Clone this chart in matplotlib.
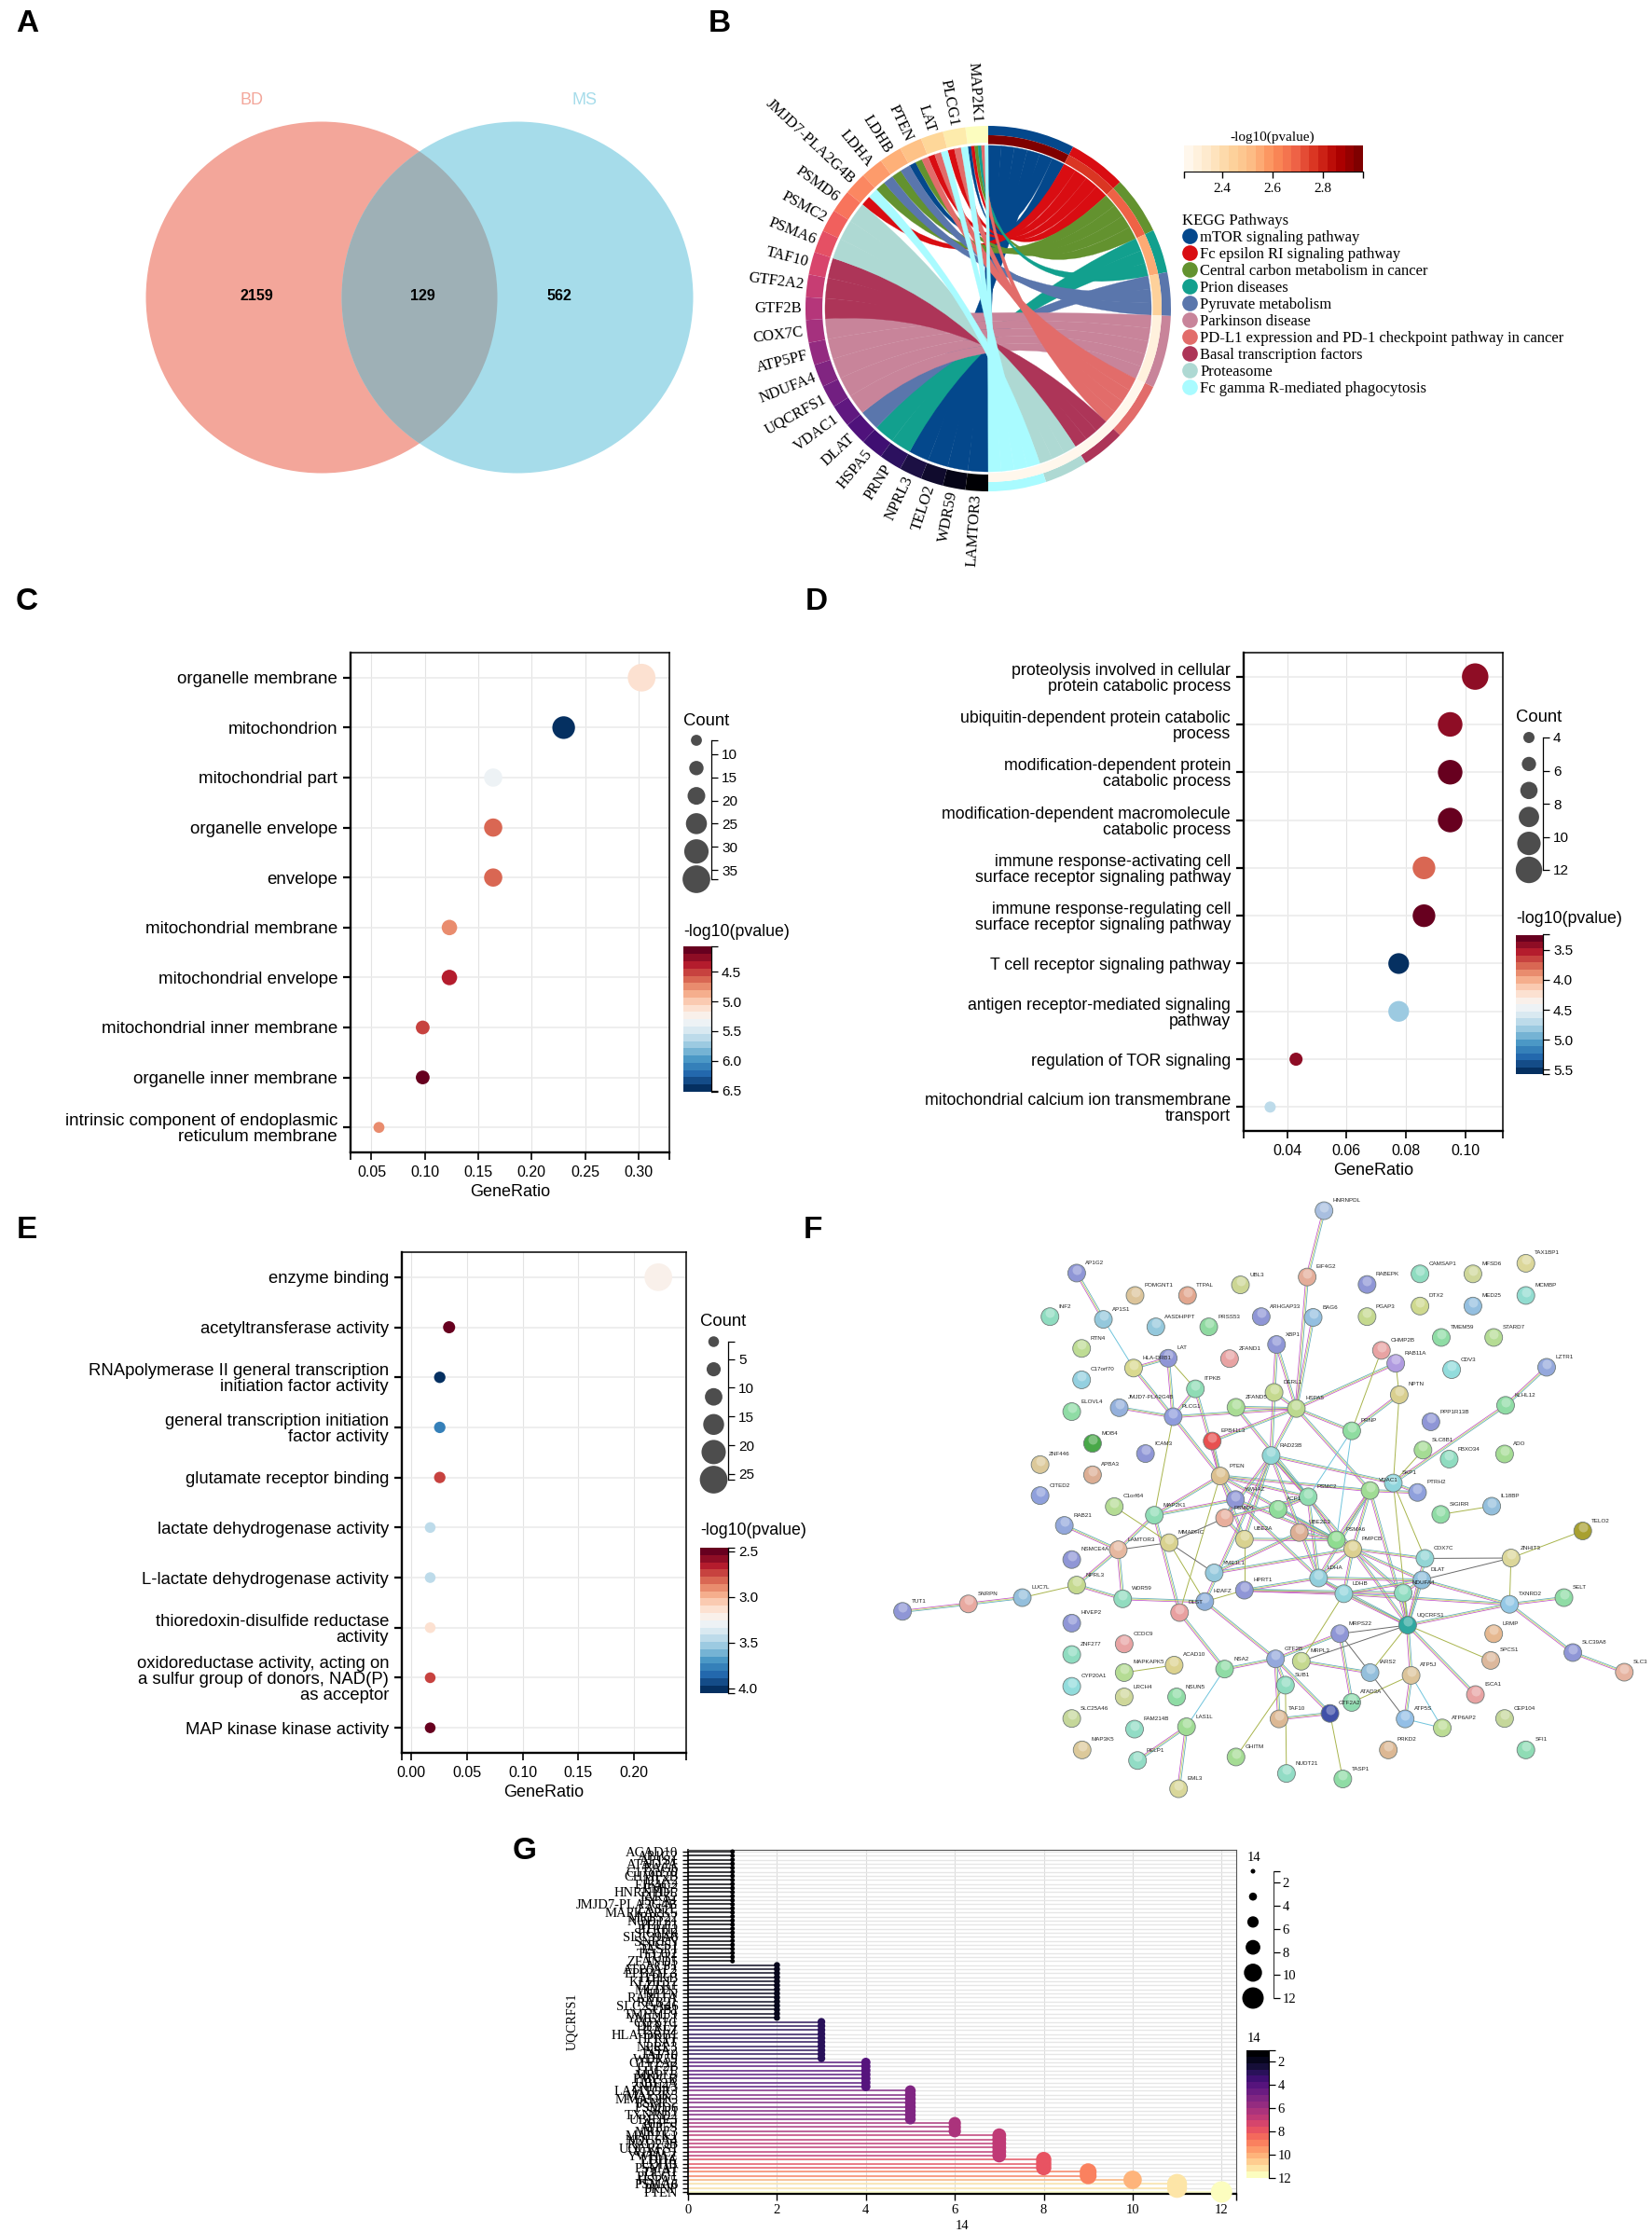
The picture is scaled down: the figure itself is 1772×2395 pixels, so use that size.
import numpy as np
import matplotlib
matplotlib.use('Agg')
import matplotlib.pyplot as plt
from matplotlib.cm import ScalarMappable
from matplotlib.collections import LineCollection
from matplotlib.colors import Normalize
from matplotlib.lines import Line2D
from matplotlib.patches import Circle, PathPatch, Wedge
from matplotlib.path import Path

plt.rcParams['font.family'] = ['Liberation Sans', 'DejaVu Sans']

W, H = 1772, 2395
SERIF = 'Liberation Serif'

# A: venn
venn_names = ['BD', 'MS']
venn_counts = [2159, 129, 562]

# B: chord
chord_genes = ['MAP2K1', 'PLCG1', 'LAT', 'PTEN', 'LDHB', 'LDHA', 'JMJD7-PLA2G4B', 'PSMD6', 'PSMC2',
               'PSMA6', 'TAF10', 'GTF2A2', 'GTF2B', 'COX7C', 'ATP5PF', 'NDUFA4', 'UQCRFS1', 'VDAC1',
               'DLAT', 'HSPA5', 'PRNP', 'NPRL3', 'TELO2', 'WDR59', 'LAMTOR3']
kegg_names = ['mTOR signaling pathway', 'Fc epsilon RI signaling pathway',
              'Central carbon metabolism in cancer', 'Prion diseases', 'Pyruvate metabolism',
              'Parkinson disease', 'PD-L1 expression and PD-1 checkpoint pathway in cancer',
              'Basal transcription factors', 'Proteasome', 'Fc gamma R-mediated phagocytosis']
kegg_colors = ['#04488c', '#d90d12', '#63922f', '#12a08e', '#5a76ac',
               '#c8849a', '#e26c6a', '#ad3558', '#aed9d3', '#a9fbff']
kegg_pvalue = [2.95, 2.75, 2.71, 2.55, 2.45, 2.30, 2.28, 2.27, 2.26, 2.25]
kegg_links = [
    ['LAMTOR3', 'WDR59', 'TELO2', 'NPRL3', 'PTEN', 'MAP2K1'],
    ['JMJD7-PLA2G4B', 'LAT', 'PLCG1', 'MAP2K1'],
    ['LDHA', 'LDHB', 'PTEN', 'MAP2K1'],
    ['PRNP', 'HSPA5', 'MAP2K1'],
    ['DLAT', 'LDHA', 'LDHB'],
    ['COX7C', 'ATP5PF', 'NDUFA4', 'UQCRFS1', 'VDAC1'],
    ['PTEN', 'LAT', 'PLCG1', 'MAP2K1'],
    ['GTF2B', 'GTF2A2', 'TAF10'],
    ['PSMA6', 'PSMC2', 'PSMD6'],
    ['JMJD7-PLA2G4B', 'LAT', 'PLCG1', 'MAP2K1'],
]

# C: cellular component
cc_terms = ['organelle membrane', 'mitochondrion', 'mitochondrial part', 'organelle envelope', 'envelope',
            'mitochondrial membrane', 'mitochondrial envelope', 'mitochondrial inner membrane',
            'organelle inner membrane', 'intrinsic component of endoplasmic\nreticulum membrane']
cc_ratio = [0.303, 0.230, 0.164, 0.164, 0.164, 0.123, 0.123, 0.098, 0.098, 0.057]
cc_count = [37, 28, 20, 20, 20, 15, 15, 12, 12, 7]
cc_pvalue = [5.12, 6.5, 5.33, 4.62, 4.58, 4.72, 4.35, 4.45, 4.1, 4.72]
cc_legend = [7, 13, 19, 25, 31, 37]

# D: biological process
bp_terms = ['proteolysis involved in cellular\nprotein catabolic process',
            'ubiquitin-dependent protein catabolic\nprocess',
            'modification-dependent protein\ncatabolic process',
            'modification-dependent macromolecule\ncatabolic process',
            'immune response-activating cell\nsurface receptor signaling pathway',
            'immune response-regulating cell\nsurface receptor signaling pathway',
            'T cell receptor signaling pathway',
            'antigen receptor-mediated signaling\npathway',
            'regulation of TOR signaling',
            'mitochondrial calcium ion transmembrane\ntransport']
bp_ratio = [0.1032, 0.0948, 0.0948, 0.0948, 0.0860, 0.0860, 0.0775, 0.0775, 0.0430, 0.0343]
bp_count = [12, 11, 11, 11, 10, 10, 9, 9, 5, 4]
bp_pvalue = [3.4, 3.38, 3.3, 3.25, 3.75, 3.29, 5.5, 4.85, 3.42, 4.72]
bp_legend = [4, 5.6, 7.2, 8.8, 10.4, 12]

# E: molecular function
mf_terms = ['enzyme binding', 'acetyltransferase activity',
            'RNApolymerase II general transcription\ninitiation factor activity',
            'general transcription initiation\nfactor activity',
            'glutamate receptor binding', 'lactate dehydrogenase activity', 'L-lactate dehydrogenase activity',
            'thioredoxin-disulfide reductase\nactivity',
            'oxidoreductase activity, acting on\na sulfur group of donors, NAD(P)\nas acceptor',
            'MAP kinase kinase activity']
mf_ratio = [0.222, 0.034, 0.0256, 0.0256, 0.0256, 0.017, 0.017, 0.017, 0.017, 0.017]
mf_count = [26, 4, 3, 3, 3, 2, 2, 2, 2, 2]
mf_pvalue = [3.2, 2.49, 4.0, 3.78, 2.72, 3.42, 3.42, 3.12, 2.72, 2.47]
mf_legend = [2, 6.8, 11.6, 16.4, 21.2, 26]

# F: network, coordinates
node_names = ['HNRNPDL', 'EIF4G2', 'AP1G2', 'POMGNT1', 'TTPAL', 'UBL3', 'ARHGAP33', 'BAG6', 'RABEPK', 'PGAP3',
              'CAMSAP1', 'MFSD6', 'TAX1BP1', 'DTX2', 'MED25', 'MCMBP', 'INF2', 'AP1S1', 'AASDHPPT', 'PRSS53',
              'RTN4', 'XBP1', 'CHMP2B', 'RAB11A', 'TMEM59', 'STARD7', 'ZFAND1', 'LAT', 'HLA-DRB1', 'C17orf70',
              'ITPKB', 'DERL1', 'NPTN', 'CDV3', 'LZTR1', 'ELOVL4', 'JMJD7-PLA2G4B', 'PLCG1', 'ZFAND5', 'HSPA5',
              'KLHL12', 'PPP1R13B', 'MOB4', 'ICAM3', 'EPB41L3', 'PRNP', 'RAD23B', 'SLC8B1', 'FBXO34', 'ADO',
              'ZNF446', 'APBA3', 'PTEN', 'CITED2', 'YWHAZ', 'VDAC1', 'SKP1', 'PTRH2', 'PSMC2', 'ACP1',
              'PSMD6', 'MAP2K1', 'C1orf64', 'SIGIRR', 'IL18BP', 'RAB21', 'UBE2E3', 'UBE2A', 'PSMA6', 'PMPCB',
              'MMADHC', 'LAMTOR3', 'NSMCE4A', 'COX7C', 'ZNHIT3', 'TELO2', 'YME1L1', 'LDHA', 'DLAT', 'NPRL3',
              'LDHB', 'NDUFA4', 'HPRT1', 'LUC7L', 'WDR59', 'H2AFZ', 'SNRPN', 'TUT1', 'SELT', 'TXNRD2',
              'DLST', 'UQCRFS1', 'HIVEP2', 'LRMP', 'MRPS22', 'CCDC9', 'ZNF277', 'SPCS1', 'SLC39A8', 'SLC3',
              'GTF2B', 'MRPL3', 'ACAD10', 'NSA2', 'MAPKAPK5', 'IARS2', 'ATP5J', 'SUB1', 'CYP20A1', 'LRCH4',
              'NSUN5', 'ISCA1', 'ATAD3A', 'GTF2A2', 'SLC25A46', 'TAF10', 'ATP5S', 'ATP6AP2', 'CEP104', 'FAM214B',
              'LAS1L', 'MAP3K5', 'PRKD2', 'SFI1', 'PELP1', 'GHITM', 'NUDT21', 'TASP1', 'EML3']
node_x = [905, 871, 405, 523, 629, 736, 778, 883, 992, 992,
          1099, 1206, 1313, 1099, 1206, 1313, 351, 459, 565, 672,
          415, 809, 1021, 1050, 1142, 1248, 714, 590, 520, 415,
          645, 804, 1057, 1163, 1355, 395, 491, 600, 727, 849,
          1272, 1121, 437, 544, 679, 961, 798, 1105, 1158, 1270,
          331, 437, 695, 331, 726, 998, 1045, 1094, 873, 812,
          704, 562, 481, 1141, 1244, 380, 855, 744, 930, 963,
          592, 489, 395, 1109, 1283, 1428, 683, 894, 1103, 405,
          945, 1065, 744, 295, 498, 664, 186, 53, 1390, 1280,
          613, 1074, 395, 1248, 937, 501, 395, 1242, 1408, 1512,
          807, 859, 602, 704, 501, 998, 1081, 827, 395, 501,
          607, 1211, 961, 917, 395, 814, 1069, 1144, 1270, 522,
          627, 416, 1035, 1313, 528, 727, 829, 943, 611]
node_y = [44, 213, 203, 260, 260, 233, 314, 316, 232, 314,
          205, 205, 178, 287, 287, 260, 314, 321, 340, 340,
          395, 385, 400, 433, 367, 367, 421, 420, 445, 475,
          498, 507, 513, 449, 443, 556, 546, 569, 545, 548,
          540, 582, 637, 663, 631, 605, 668, 654, 677, 664,
          691, 717, 720, 770, 780, 757, 738, 762, 773, 805,
          827, 820, 798, 818, 797, 846, 864, 881, 883, 906,
          890, 908, 933, 930, 929, 860, 967, 980, 985, 998,
          1020, 1018, 1011, 1030, 1033, 1040, 1046, 1065, 1030, 1047,
          1068, 1100, 1095, 1122, 1122, 1148, 1175, 1190, 1170, 1220,
          1186, 1192, 1202, 1212, 1221, 1221, 1228, 1253, 1256, 1283,
          1283, 1277, 1297, 1325, 1338, 1339, 1339, 1362, 1338, 1365,
          1359, 1418, 1418, 1418, 1445, 1436, 1478, 1492, 1517]
node_colors = ['#a9bfe0', '#e4ad99', '#8f96d6', '#dcc49a', '#e2a78f', '#ccd694', '#8f96d6', '#94bfe0', '#8f96d6', '#c5d98f',
               '#8fdcc0', '#cfd79a', '#dcd79a', '#cfd98f', '#94bfe0', '#92dcd0', '#8fdcc0', '#94c8dc', '#94c8dc', '#8fd9a0',
               '#bedc94', '#8f96d6', '#e8a3a3', '#b09be0', '#8fdca5', '#b5dc94', '#e8a3a3', '#8f96d6', '#d9d98f', '#94d0e0',
               '#8fdcb5', '#c5d98f', '#d9cf8f', '#92dcdc', '#94a8dc', '#8fdca5', '#94b0dc', '#8f9cdc', '#a9dc94', '#bcd98f',
               '#8fdca5', '#8f96d6', '#48a848', '#8f96d6', '#e85050', '#8fdca0', '#8fd5d5', '#a5dc94', '#8fdcc0', '#a5dc94',
               '#dcc99a', '#dcae94', '#dcc08f', '#8fa0dc', '#8f96d6', '#a0dc94', '#8fd5dc', '#8fa0dc', '#8fdcb0', '#8fdc9a',
               '#e8ae9c', '#8fdcb5', '#b5dc94', '#8fdca5', '#94bfdc', '#94a8dc', '#dcae94', '#d9d28f', '#8fdc90', '#dcd08f',
               '#d9d28f', '#e6b8a0', '#8f96d6', '#92d5d5', '#dcd79a', '#a8a030', '#94c8dc', '#92cfdc', '#8fbfdc', '#c5d98f',
               '#92d5dc', '#8fdcc0', '#8f96d6', '#94bfdc', '#92dcbf', '#8fb0dc', '#e8a9a0', '#8f96d6', '#8fdca5', '#94c8e6',
               '#e8a0a0', '#30a8a0', '#8f96d6', '#e6b890', '#8f96d6', '#e8a3a3', '#8fdcc0', '#dcb89c', '#8f96d6', '#e6b3a0',
               '#94a8dc', '#c5d98f', '#dcd28f', '#8fdca5', '#b5dc94', '#94bfdc', '#dcc49a', '#8fdcc0', '#92dcdc', '#cfd79a',
               '#8fdca5', '#e8a3a3', '#8fdcb0', '#4050a8', '#c5d79a', '#dcb894', '#94bfe6', '#bcdc94', '#c5d79a', '#92dcc5',
               '#a0dc94', '#dcc99a', '#dcb894', '#8fdcb5', '#92dcc5', '#a5dc94', '#92dcc5', '#8fdca5', '#d9d79a']
strong_edges = [('HNRNPDL', 'EIF4G2'), ('EIF4G2', 'HSPA5'), ('BAG6', 'HSPA5'), ('AP1G2', 'AP1S1'), ('LAT', 'HLA-DRB1'),
                ('LAT', 'PLCG1'), ('HLA-DRB1', 'PLCG1'), ('ITPKB', 'PLCG1'), ('ITPKB', 'PTEN'), ('JMJD7-PLA2G4B', 'PLCG1'),
                ('PLCG1', 'HSPA5'), ('ZFAND5', 'HSPA5'), ('ZFAND5', 'PSMC2'), ('XBP1', 'DERL1'), ('XBP1', 'HSPA5'),
                ('DERL1', 'HSPA5'), ('DERL1', 'RAD23B'), ('HSPA5', 'RAB11A'), ('HSPA5', 'PRNP'), ('NPTN', 'PRNP'),
                ('HSPA5', 'RAD23B'), ('HSPA5', 'EPB41L3'), ('HSPA5', 'VDAC1'), ('EPB41L3', 'PTEN'), ('PLCG1', 'PTEN'),
                ('PTEN', 'MAP2K1'), ('PTEN', 'VDAC1'), ('PTEN', 'PSMC2'), ('PTEN', 'YWHAZ'), ('PTEN', 'UBE2A'),
                ('PTEN', 'PSMA6'), ('RAD23B', 'PSMD6'), ('RAD23B', 'PSMC2'), ('RAD23B', 'UBE2A'), ('RAD23B', 'H2AFZ'),
                ('RAD23B', 'SKP1'), ('KLHL12', 'SKP1'), ('LZTR1', 'KLHL12'), ('SKP1', 'PTRH2'), ('VDAC1', 'PTRH2'),
                ('VDAC1', 'UQCRFS1'), ('VDAC1', 'LDHA'), ('VDAC1', 'PSMA6'), ('VDAC1', 'PMPCB'), ('YWHAZ', 'MAP2K1'),
                ('MAP2K1', 'LAMTOR3'), ('MAP2K1', 'DLST'), ('RAB21', 'LAMTOR3'), ('LAMTOR3', 'NPRL3'), ('LAMTOR3', 'WDR59'),
                ('NPRL3', 'WDR59'), ('LUC7L', 'SNRPN'), ('SNRPN', 'TUT1'), ('WDR59', 'H2AFZ'), ('DLST', 'NSA2'),
                ('H2AFZ', 'GTF2B'), ('NSA2', 'GTF2B'), ('LAS1L', 'PELP1'), ('LAS1L', 'EML3'), ('GTF2B', 'SUB1'),
                ('GTF2B', 'TAF10'), ('GTF2B', 'GTF2A2'), ('TAF10', 'GTF2A2'), ('MRPL3', 'IARS2'), ('MRPS22', 'GTF2B'),
                ('MRPS22', 'ATAD3A'), ('ATP5J', 'ATP5S'), ('UQCRFS1', 'ATP5J'), ('UQCRFS1', 'ISCA1'), ('UQCRFS1', 'TXNRD2'),
                ('DLAT', 'TXNRD2'), ('LDHB', 'TXNRD2'), ('TXNRD2', 'SELT'), ('TXNRD2', 'SLC39A8'), ('SLC39A8', 'SLC3'),
                ('PMPCB', 'COX7C'), ('PMPCB', 'UQCRFS1'), ('PMPCB', 'LDHA'), ('PMPCB', 'DLAT'), ('PMPCB', 'LDHB'),
                ('PMPCB', 'NDUFA4'), ('PSMA6', 'PSMC2'), ('PSMC2', 'LDHA'), ('ACP1', 'PSMA6'), ('UBE2E3', 'PSMA6'),
                ('UBE2A', 'PSMA6'), ('YME1L1', 'PMPCB'), ('YME1L1', 'UBE2E3'), ('YWHAZ', 'LDHA'), ('YWHAZ', 'PSMA6'),
                ('HPRT1', 'LDHA'), ('HPRT1', 'LDHB'), ('HPRT1', 'NDUFA4'), ('LDHA', 'LDHB'), ('LDHA', 'DLAT'),
                ('LDHB', 'DLAT'), ('LDHA', 'UQCRFS1'), ('LDHB', 'UQCRFS1'), ('DLAT', 'UQCRFS1'), ('COX7C', 'UQCRFS1'),
                ('NDUFA4', 'UQCRFS1'), ('NDUFA4', 'DLAT'), ('PSMD6', 'PSMC2'), ('PSMD6', 'YWHAZ'), ('PSMD6', 'UBE2A'),
                ('RAD23B', 'PMPCB'), ('ACP1', 'PSMC2'), ('RAD23B', 'LDHA')]
olive_edges = [('LAT', 'ITPKB'), ('CHMP2B', 'PRNP'), ('RAB11A', 'NPTN'), ('NPTN', 'SKP1'), ('PLCG1', 'MAP2K1'),
               ('PTEN', 'DLST'), ('SLC8B1', 'SKP1'), ('SKP1', 'COX7C'), ('SKP1', 'UQCRFS1'), ('SIGIRR', 'IL18BP'),
               ('C1orf64', 'MMADHC'), ('NPRL3', 'LUC7L'), ('H2AFZ', 'HPRT1'), ('MAPKAPK5', 'ACAD10'), ('GTF2A2', 'TASP1'),
               ('SUB1', 'GHITM'), ('SUB1', 'NUDT21'), ('ATP5J', 'ATAD3A'), ('UQCRFS1', 'SPCS1'), ('UQCRFS1', 'IARS2'),
               ('TXNRD2', 'ZNHIT3'), ('ZNHIT3', 'TELO2'), ('UBE2A', 'HPRT1'), ('MMADHC', 'H2AFZ'), ('LDHB', 'MRPL3')]
grey_edges = [('MMADHC', 'LAMTOR3'), ('MMADHC', 'PSMD6'), ('MMADHC', 'YME1L1'), ('MRPL3', 'UQCRFS1'), ('MRPS22', 'UQCRFS1'),
              ('MRPS22', 'IARS2'), ('IARS2', 'ATP5S'), ('ZNHIT3', 'COX7C'), ('ZNHIT3', 'DLAT')]
cyan_edges = [('AP1S1', 'HLA-DRB1'), ('PRNP', 'PSMA6'), ('PRNP', 'PSMC2'), ('NSA2', 'LAS1L'), ('ATP5J', 'ATP6AP2'),
              ('ATP5S', 'ATP6AP2')]

# G: node degree, genes in overlapping rows are partly a best guess
degree_genes = ['ACAD10', 'AP1G2', 'AP1S1', 'ATAD3A', 'BAG6', 'C17orf70', 'CHMP2B', 'DTX2', 'EIF4G2', 'EML3',
                'HNRNPDL', 'IARS2', 'ISCA1', 'JMJD7-PLA2G4B', 'LAS1L', 'MAPKAPK5', 'MRPS22', 'NUDT21', 'PELP1', 'PTRH2',
                'SIGIRR', 'SLC39A8', 'SNRPN', 'SPCS1', 'TASP1', 'TELO2', 'TUT1', 'ZFAND5',
                'ACP1', 'ATP6AP2', 'EPB41L3', 'ITPKB', 'KLHL12', 'LZTR1', 'MED25', 'NPTN', 'RAB11A', 'RAB21',
                'SLC25A46', 'SUB1', 'TMEM59', 'YME1L1',
                'COX7C', 'DERL1', 'H2AFZ', 'HLA-DRB1', 'HPRT1', 'LAT', 'NPRL3', 'NSA2', 'TAF10', 'WDR59',
                'GTF2A2', 'GTF2B', 'LUC7L', 'MRPL3', 'PMPCB', 'UBE2A', 'ZNHIT3',
                'LAMTOR3', 'MAP3K5', 'MMADHC', 'PSMC2', 'PSMD6', 'SKP1', 'TXNRD2', 'UBE2E3',
                'ATP5J', 'ATP5S', 'MRPL3',
                'MAP2K1', 'NDUFA4', 'RAD23B', 'UQCRFS1', 'VDAC1', 'YWHAZ',
                'LDHA', 'LDHB', 'PSMA1',
                'DLAT', 'PLCG1', 'HSPA5', 'PSMA6', 'PRNP', 'PTEN']
degree_values = [1] * 28 + [2] * 14 + [3] * 10 + [4] * 7 + [5] * 8 + [6] * 3 + [7] * 6 + [8] * 3 + [9] * 2 + [10] + [11] * 2 + [12]
degree_legend = [1, 3.2, 5.4, 7.6, 9.8, 12]


def px_axes(left, top, right, bottom, **kw):
    return fig.add_axes([left / W, 1 - bottom / H, (right - left) / W, (bottom - top) / H], **kw)


def px_text(x, y, s, **kw):
    kw.setdefault('va', 'center')
    return fig.text(x / W, 1 - y / H, s, **kw)


def disc(d_px):
    # scatter size for a circle of d_px pixels across
    return (np.asarray(d_px, dtype=float) * 0.72) ** 2


fig = plt.figure(figsize=(W / 100, H / 100), dpi=100, facecolor='white')

for letter, lx, ly in [('A', 17, 25), ('B', 760, 26), ('C', 17, 645), ('D', 864, 645),
                       ('E', 18, 1319), ('F', 862, 1319), ('G', 550, 1985)]:
    px_text(lx, ly, letter, fontsize=24, fontweight='bold')

# panel A
ax = px_axes(0, 0, 780, 540)
ax.set_xlim(0, 780)
ax.set_ylim(540, 0)
ax.axis('off')
left_c = Circle((345, 319), 188.5, color='#f3a69a', lw=0)
right_c = Circle((555, 319), 188.5, color='#a6dcea', lw=0)
ax.add_patch(left_c)
ax.add_patch(right_c)
both = Circle((555, 319), 188.5, color='#9eb0b6', lw=0)
ax.add_patch(both)
both.set_clip_path(left_c)
ax.text(270, 107, venn_names[0], color='#f3a69a', fontsize=13, ha='center', va='center')
ax.text(627, 107, venn_names[1], color='#a6dcea', fontsize=13, ha='center', va='center')
for tx, n in zip([275, 453, 600], venn_counts):
    ax.text(tx, 317, str(n), fontsize=11.5, fontweight='bold', ha='center', va='center')

# panel B
ax = px_axes(1060 - 235, 331 - 235, 1060 + 235, 331 + 235)
ax.set_xlim(-235 / 196, 235 / 196)
ax.set_ylim(-235 / 196, 235 / 196)
ax.axis('off')


def pt(a, r=1.0):
    # a is in degrees clockwise from the top
    a = np.radians(a)
    return r * np.sin(a), r * np.cos(a)


n_links = sum(len(g) for g in kegg_links)
gene_step = 180 / len(chord_genes)
link_step = 180 / n_links
pv_norm = Normalize(2.25, 2.96)
pv_cmap = plt.get_cmap('OrRd', 20)
gene_cmap = plt.get_cmap('magma_r', 25)

for i, g in enumerate(chord_genes):
    ax.add_patch(Wedge((0, 0), 1, 90 + i * gene_step, 90 + (i + 1) * gene_step, width=0.092,
                       color=gene_cmap(i / 24), lw=0))
    th = (i + 0.5) * gene_step
    x, y = pt(-th, 1.018)
    rot = np.degrees(np.arctan2(-np.cos(np.radians(th)), np.sin(np.radians(th))))
    ax.text(x, y, g, family=SERIF, fontsize=12, rotation=rot, rotation_mode='anchor', ha='right', va='center')

gene_slots = {}
for g in chord_genes:
    members = [p for p, links in enumerate(kegg_links) if g in links]
    i = chord_genes.index(g)
    w = gene_step / len(members)
    for k, p in enumerate(members):
        # the first pathway of a gene sits at the lower end of its segment
        gene_slots[(g, p)] = ((i + 1) * gene_step - (k + 1) * w, (i + 1) * gene_step - k * w)

R = 0.893
a_now = 0
for p, links in enumerate(kegg_links):
    span = len(links) * link_step
    ax.add_patch(Wedge((0, 0), 1, 90 - a_now - span, 90 - a_now, width=0.051, color=kegg_colors[p], lw=0))
    ax.add_patch(Wedge((0, 0), 0.949, 90 - a_now - span, 90 - a_now, width=0.049,
                       color=pv_cmap(pv_norm(kegg_pvalue[p])), lw=0))
    for j, g in enumerate(links):
        a0, a1 = a_now + j * link_step, a_now + (j + 1) * link_step
        lo, hi = gene_slots[(g, p)]
        arc_r = [pt(a, R) for a in np.linspace(a0, a1, 12)]
        arc_l = [pt(-t, R) for t in np.linspace(hi, lo, 12)]
        verts = arc_r + [(0, 0), arc_l[0]] + arc_l[1:] + [(0, 0), arc_r[0], arc_r[0]]
        codes = ([Path.MOVETO] + [Path.LINETO] * 11 + [Path.CURVE3, Path.CURVE3] + [Path.LINETO] * 11
                 + [Path.CURVE3, Path.CURVE3, Path.CLOSEPOLY])
        ax.add_patch(PathPatch(Path(verts, codes), facecolor=kegg_colors[p], edgecolor=kegg_colors[p], lw=0.2))
    a_now += span

cax = px_axes(1270, 156, 1462, 184)
cb = fig.colorbar(ScalarMappable(norm=pv_norm, cmap=pv_cmap), cax=cax, orientation='horizontal')
cb.outline.set_visible(False)
cb.set_ticks([2.4, 2.6, 2.8])
cax.set_xticks([2.25, 2.96], minor=True)
cax.spines['bottom'].set_visible(True)
cax.tick_params(which='both', length=5, width=1, labelsize=11, labelfontfamily=SERIF, pad=4)
px_text(1365, 147, '-log10(pvalue)', family=SERIF, fontsize=11, ha='center')

handles = [Line2D([], [], marker='o', ls='', color=c, ms=12, mew=0) for c in kegg_colors]
fig.legend(handles, kegg_names, loc='upper left', bbox_to_anchor=(1268 / W, 1 - 229 / H), frameon=False,
           title='KEGG Pathways', alignment='left', borderpad=0, borderaxespad=0, handlelength=1, handletextpad=0.15,
           labelspacing=0.12, prop={'family': SERIF, 'size': 12},
           title_fontproperties={'family': SERIF, 'size': 12})


# panels C, D, E
def dot_panel(box, terms, ratio, count, pvalue, xlim, xticks, vlim, cb_ticks, legend_vals, leg_ticks, d_range,
              leg_box, leg_cx, leg_y, cb_box, title_y, term_size=13.5):
    blues = plt.get_cmap('RdBu', 20)
    lo, hi = min(legend_vals), max(legend_vals)
    dia = lambda c: d_range[0] + (np.asarray(c, dtype=float) - lo) * (d_range[1] - d_range[0]) / (hi - lo)

    a = px_axes(*box)
    rows = np.arange(len(terms))
    a.set_axisbelow(True)
    a.grid(axis='y', color='#ebebeb', lw=1.2)
    a.grid(axis='x', color='#e3e3e3', lw=0.8)
    a.scatter(ratio, rows, s=disc(dia(count)), c=pvalue, cmap=blues, vmin=vlim[0], vmax=vlim[1], linewidths=0, zorder=3)
    a.set_xlim(*xlim)
    a.set_ylim(len(terms) - 0.5, -0.5)
    a.set_xticks(xticks, [f'{t:.2f}' for t in xticks])
    a.set_xticks(xlim, minor=True)
    a.set_yticks(rows)
    a.set_yticklabels(terms, linespacing=1.0, ha='right', multialignment='right')
    a.tick_params(axis='y', labelsize=term_size, length=6, width=1.6, pad=4)
    a.tick_params(axis='x', which='both', length=6, width=1.2, pad=4)
    a.tick_params(axis='x', labelsize=11.5)
    a.set_xlabel('GeneRatio', fontsize=13, labelpad=4)
    for s in ['top', 'right']:
        a.spines[s].set_linewidth(1.1)
    for s in ['left', 'bottom']:
        a.spines[s].set_linewidth(1.7)

    l = px_axes(*leg_box)
    l.set_xlim(0, 1)
    l.set_ylim(hi, lo)
    l.scatter([(leg_cx - leg_box[0]) / (leg_box[2] - leg_box[0])] * len(legend_vals), legend_vals,
              s=disc(dia(legend_vals)), color='#4d4d4d', linewidths=0, clip_on=False)
    for s in ['left', 'top', 'bottom']:
        l.spines[s].set_visible(False)
    l.spines['right'].set_linewidth(0.9)
    l.set_xticks([])
    l.yaxis.tick_right()
    l.set_yticks(leg_ticks, [str(t) for t in leg_ticks])
    l.set_yticks([lo, hi], minor=True)
    l.tick_params(axis='y', which='both', length=5, width=0.9, labelsize=11, pad=3)
    l.patch.set_alpha(0)
    px_text(leg_box[0], leg_y, 'Count', fontsize=13.3)

    c = px_axes(*cb_box)
    cbar = fig.colorbar(ScalarMappable(norm=Normalize(*vlim), cmap=blues), cax=c)
    cbar.outline.set_visible(False)
    c.invert_yaxis()
    cbar.set_ticks(cb_ticks)
    cbar.set_ticklabels([f'{t:.1f}' for t in cb_ticks])
    c.set_yticks(list(vlim), minor=True)
    c.spines['right'].set_visible(True)
    c.spines['right'].set_linewidth(0.9)
    c.tick_params(which='both', length=5, width=0.9, labelsize=11, pad=3)
    px_text(cb_box[0], title_y, '-log10(pvalue)', fontsize=12.8)


dot_panel((376, 700, 718, 1236), cc_terms, cc_ratio, cc_count, cc_pvalue, (0.0304, 0.329),
          [0.05, 0.10, 0.15, 0.20, 0.25, 0.30], (4.08, 6.52), [4.5, 5.0, 5.5, 6.0, 6.5],
          cc_legend, [10, 15, 20, 25, 30, 35], (11.8, 29.7),
          (733, 794, 763, 943), 747, 773, (733, 1015.5, 763, 1171), 999)
dot_panel((1334, 700, 1612, 1213), bp_terms, bp_ratio, bp_count, bp_pvalue, (0.0254, 0.1125),
          [0.04, 0.06, 0.08, 0.10], (3.25, 5.57), [3.5, 4.0, 4.5, 5.0, 5.5],
          bp_legend, [4, 6, 8, 10, 12], (12.0, 28.4),
          (1626, 791, 1655, 933), 1640, 770, (1626, 1002.5, 1655, 1152), 986, term_size=12.8)
dot_panel((431, 1343, 736, 1880), mf_terms, mf_ratio, mf_count, mf_pvalue, (-0.0085, 0.247),
          [0.00, 0.05, 0.10, 0.15, 0.20], (2.46, 4.05), [2.5, 3.0, 3.5, 4.0],
          mf_legend, [5, 10, 15, 20, 25], (11.5, 29.7),
          (751, 1439, 781, 1587), 765.5, 1417, (751, 1660, 781, 1815.5), 1642, term_size=13.3)

# panel F
ax = px_axes(940, 1280, 1772, 1940)
ax.set_xlim(0, 1568)
ax.set_ylim(1568, 0)
ax.axis('off')
node_xy = dict(zip(node_names, zip(node_x, node_y)))

segs, seg_cols = [], []
for a_name, b_name in strong_edges:
    p = np.array(node_xy[a_name], dtype=float)
    q = np.array(node_xy[b_name], dtype=float)
    nrm = np.array([q[1] - p[1], p[0] - q[0]])
    nrm = nrm / np.hypot(*nrm)
    for off, col in zip([-2.6, 0, 2.6], ['#c050c8', '#c8d860', '#5aa8b8']):
        segs.append([p + off * nrm, q + off * nrm])
        seg_cols.append(col)
ax.add_collection(LineCollection(segs, colors=seg_cols, linewidths=0.55, zorder=1))
for edges, col in [(olive_edges, '#a8b44c'), (grey_edges, '#6a6a6a'), (cyan_edges, '#6fc4dc')]:
    ax.add_collection(LineCollection([[node_xy[a_], node_xy[b_]] for a_, b_ in edges], colors=col, linewidths=0.7, zorder=1))

ax.scatter(node_x, node_y, s=disc(19), c=node_colors, edgecolors='#6f7a78', linewidths=0.6, zorder=2)
ax.scatter(node_x, np.array(node_y) - 9, s=disc(10), color='white', alpha=0.3, linewidths=0, zorder=3)
for name, x, y in zip(node_names, node_x, node_y):
    ax.text(x + 18, y - 26, name, fontsize=4.5, color='#222222', va='center', zorder=4)

# panel G
ax = px_axes(738, 1984, 1326, 2353)
rows = np.arange(len(degree_genes))
deg_norm = Normalize(1, 12)
deg_cmap = plt.get_cmap('magma', 20)
deg_dia = lambda v: 5 + (np.asarray(v, dtype=float) - 1) * 18 / 11
ax.set_axisbelow(True)
ax.grid(axis='y', color='#e6e6e6', lw=1)
ax.grid(axis='x', color='#dcdcdc', lw=0.8)
ax.hlines(rows, 0, degree_values, colors=deg_cmap(deg_norm(degree_values)), lw=1.3, alpha=0.8, zorder=2)
ax.scatter(degree_values, rows, s=disc(deg_dia(degree_values)), c=degree_values, cmap=deg_cmap, norm=deg_norm,
           linewidths=0, zorder=3, clip_on=False)
ax.set_xlim(0, 12.33)
ax.set_ylim(84.46, -0.46)
ax.set_yticks(rows)
ax.set_yticklabels(degree_genes)
ax.set_xticks(range(0, 13, 2))
ax.set_xticks([12.33], minor=True)
ax.tick_params(axis='y', length=4.5, width=1, labelsize=10.5, pad=3, labelfontfamily=SERIF)
ax.tick_params(axis='x', which='both', length=5, width=1, labelsize=10.5, pad=3, labelfontfamily=SERIF)
ax.set_xlabel('14', family=SERIF, fontsize=10.5, labelpad=3)
for s in ['top', 'right']:
    ax.spines[s].set_color('#555555')
ax.spines['bottom'].set_linewidth(1.6)
ax.spines['left'].set_linewidth(1.2)
px_text(614, 2168, 'UQCRFS1', family=SERIF, fontsize=10, rotation=90, ha='center')

l = px_axes(1330, 2007, 1366, 2143)
l.set_xlim(0, 1)
l.set_ylim(12, 1)
l.scatter([(1344 - 1330) / 36] * len(degree_legend), degree_legend, s=disc(deg_dia(degree_legend)),
          color='black', linewidths=0, clip_on=False)
for s in ['left', 'top', 'bottom']:
    l.spines[s].set_visible(False)
l.spines['right'].set_color('#333333')
l.set_xticks([])
l.yaxis.tick_right()
l.set_yticks([2, 4, 6, 8, 10, 12])
l.set_yticks([1], minor=True)
l.tick_params(axis='y', which='both', length=5, width=0.9, labelsize=10.5, pad=2, labelfontfamily=SERIF)
l.patch.set_alpha(0)
px_text(1338, 1993, '14', family=SERIF, fontsize=10.5)

c = px_axes(1337, 2199, 1361, 2336)
cb = fig.colorbar(ScalarMappable(norm=deg_norm, cmap=deg_cmap), cax=c)
cb.outline.set_visible(False)
c.invert_yaxis()
cb.set_ticks([2, 4, 6, 8, 10, 12])
c.set_yticks([1], minor=True)
c.spines['right'].set_visible(True)
c.tick_params(which='both', length=5, width=0.9, labelsize=10.5, pad=2, labelfontfamily=SERIF)
px_text(1338, 2186, '14', family=SERIF, fontsize=10.5)

fig.savefig('out.png', dpi=100)
